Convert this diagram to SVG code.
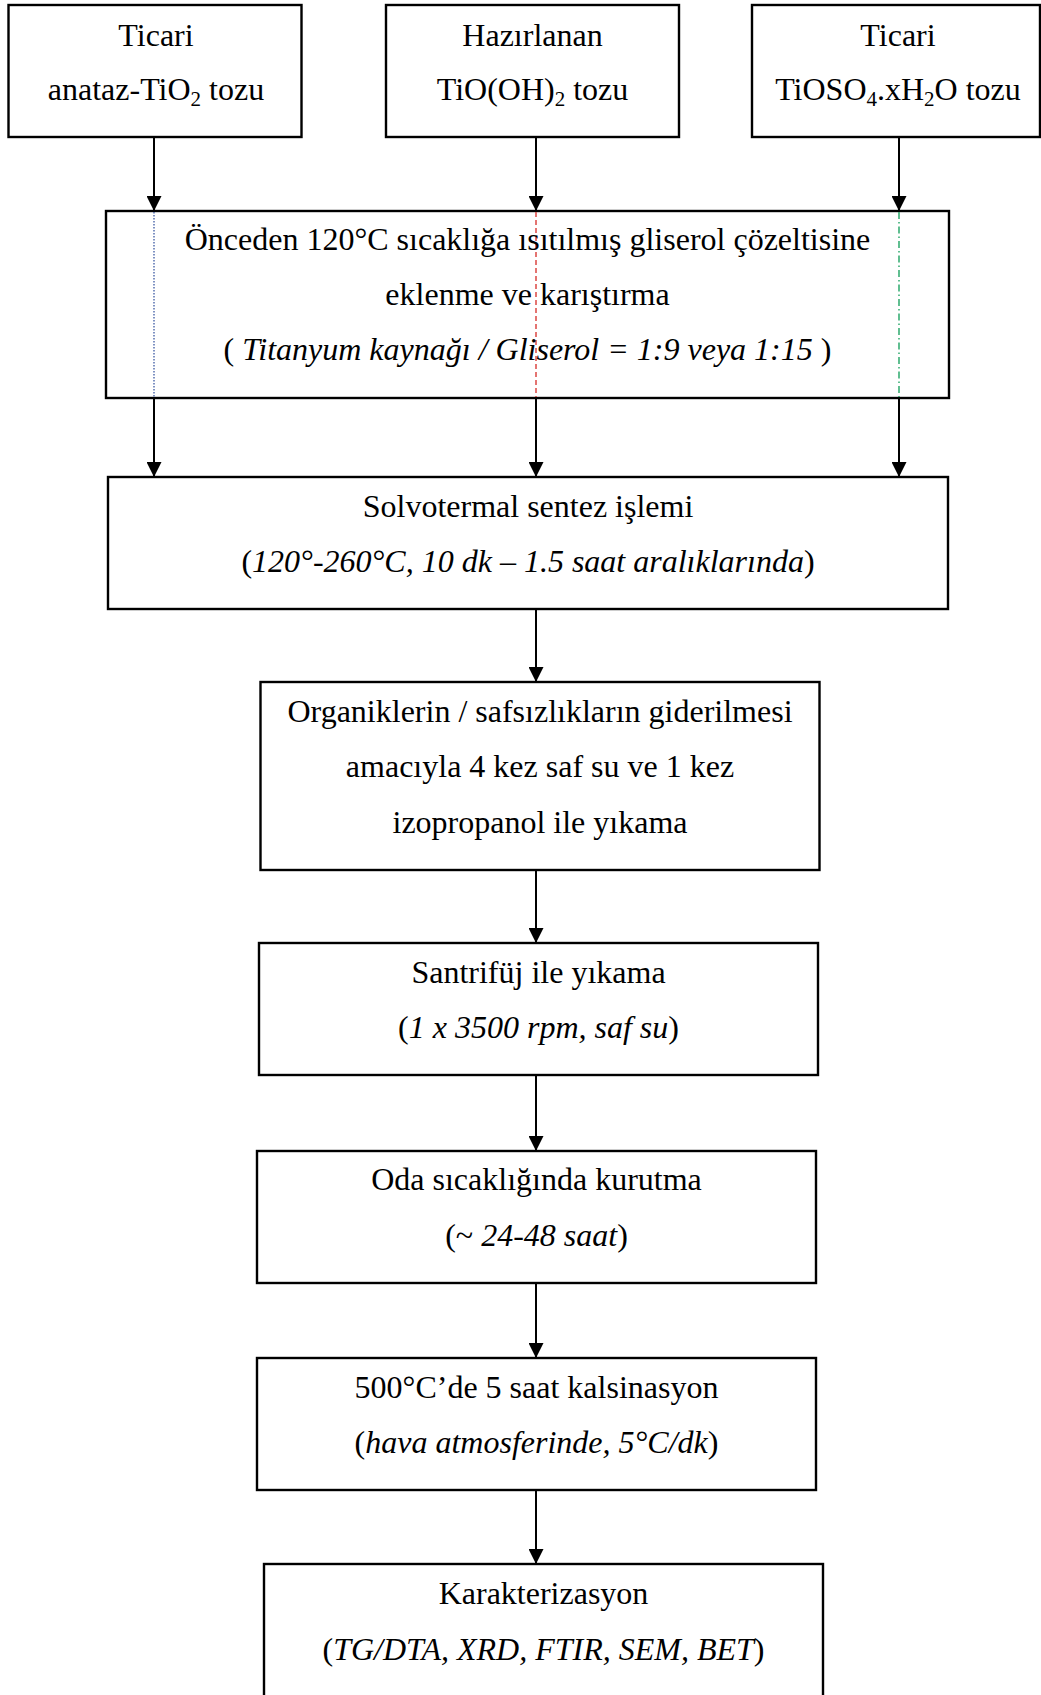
<svg xmlns="http://www.w3.org/2000/svg" width="1041" height="1695" viewBox="0 0 1041 1695">
<style>
  .box { fill: #fff; stroke: #000; stroke-width: 2.4; }
  .t { font-family: "Liberation Serif", "Times New Roman", serif; font-size: 32px; fill: #000; text-anchor: middle; }
  .i { font-style: italic; }
  .sub { font-size: 21px; }
  .conn { stroke: #000; stroke-width: 2; fill: none; }
</style>
<defs>
  <marker id="arr" markerUnits="userSpaceOnUse" markerWidth="15" markerHeight="15" viewBox="0 0 15 15" refX="15" refY="7.5" orient="auto">
    <path d="M0,0 L15,7.5 L0,15 z" fill="#000"/>
  </marker>
</defs>
<rect width="1041" height="1695" fill="#fff"/>

<g id="connectors">
  <line class="conn" x1="154" y1="137" x2="154" y2="211" marker-end="url(#arr)"/>
  <line class="conn" x1="536" y1="137" x2="536" y2="211" marker-end="url(#arr)"/>
  <line class="conn" x1="899" y1="137" x2="899" y2="211" marker-end="url(#arr)"/>
  <line class="conn" x1="154" y1="398" x2="154" y2="477" marker-end="url(#arr)"/>
  <line class="conn" x1="536" y1="398" x2="536" y2="477" marker-end="url(#arr)"/>
  <line class="conn" x1="899" y1="398" x2="899" y2="477" marker-end="url(#arr)"/>
  <line class="conn" x1="536" y1="609" x2="536" y2="682" marker-end="url(#arr)"/>
  <line class="conn" x1="536" y1="870" x2="536" y2="943" marker-end="url(#arr)"/>
  <line class="conn" x1="536" y1="1075" x2="536" y2="1151" marker-end="url(#arr)"/>
  <line class="conn" x1="536" y1="1283" x2="536" y2="1358" marker-end="url(#arr)"/>
  <line class="conn" x1="536" y1="1490" x2="536" y2="1564" marker-end="url(#arr)"/>
</g>

<g id="n1">
  <rect class="box" x="8.5" y="5" width="293" height="132"/>
  <text class="t" x="156" y="46">Ticari</text>
  <text class="t" x="156" y="100">anataz-TiO<tspan class="sub" dy="6">2</tspan><tspan dy="-6"> tozu</tspan></text>
</g>
<g id="n2">
  <rect class="box" x="386" y="5" width="293" height="132"/>
  <text class="t" x="532.5" y="46">Hazırlanan</text>
  <text class="t" x="532.5" y="100">TiO(OH)<tspan class="sub" dy="6">2</tspan><tspan dy="-6"> tozu</tspan></text>
</g>
<g id="n3">
  <rect class="box" x="752" y="5" width="288" height="132"/>
  <text class="t" x="898" y="46">Ticari</text>
  <text class="t" x="898" y="100">TiOSO<tspan class="sub" dy="6">4</tspan><tspan dy="-6">.xH</tspan><tspan class="sub" dy="6">2</tspan><tspan dy="-6">O tozu</tspan></text>
</g>
<g id="n4">
  <rect class="box" x="106" y="211" width="843" height="187"/>
  <line x1="154" y1="212" x2="154" y2="397" stroke="#2a4a9a" stroke-width="1.2" stroke-dasharray="1.5,1.5"/>
  <line x1="536" y1="212" x2="536" y2="397" stroke="#d93a36" stroke-width="1.4" stroke-dasharray="5,3"/>
  <line x1="899" y1="212" x2="899" y2="397" stroke="#1fa463" stroke-width="1.4" stroke-dasharray="7,3,1.5,3"/>
  <text class="t" x="527.5" y="250">Önceden 120°C sıcaklığa ısıtılmış gliserol çözeltisine</text>
  <text class="t" x="527.5" y="305">eklenme ve karıştırma</text>
  <text class="t" x="527.5" y="360">( <tspan class="i">Titanyum kaynağı / Gliserol = 1:9 veya 1:15</tspan> )</text>
</g>
<g id="n5">
  <rect class="box" x="108" y="477" width="840" height="132"/>
  <text class="t" x="528" y="517">Solvotermal sentez işlemi</text>
  <text class="t" x="528" y="572">(<tspan class="i">120°-260°C, 10 dk – 1.5 saat aralıklarında</tspan>)</text>
</g>
<g id="n6">
  <rect class="box" x="260.5" y="682" width="559" height="188"/>
  <text class="t" x="540" y="722">Organiklerin / safsızlıkların giderilmesi</text>
  <text class="t" x="540" y="777">amacıyla 4 kez saf su ve 1 kez</text>
  <text class="t" x="540" y="833">izopropanol ile yıkama</text>
</g>
<g id="n7">
  <rect class="box" x="259" y="943" width="559" height="132"/>
  <text class="t" x="538.5" y="983">Santrifüj ile yıkama</text>
  <text class="t" x="538.5" y="1038">(<tspan class="i">1 x 3500 rpm, saf su</tspan>)</text>
</g>
<g id="n8">
  <rect class="box" x="257" y="1151" width="559" height="132"/>
  <text class="t" x="536.5" y="1190">Oda sıcaklığında kurutma</text>
  <text class="t" x="536.5" y="1246">(~ <tspan class="i">24-48 saat</tspan>)</text>
</g>
<g id="n9">
  <rect class="box" x="257" y="1358" width="559" height="132"/>
  <text class="t" x="536.5" y="1398">500°C’de 5 saat kalsinasyon</text>
  <text class="t" x="536.5" y="1453">(<tspan class="i">hava atmosferinde, 5°C/dk</tspan>)</text>
</g>
<g id="n10">
  <rect class="box" x="264" y="1564" width="559" height="200"/>
  <text class="t" x="543.5" y="1604">Karakterizasyon</text>
  <text class="t" x="543.5" y="1660">(<tspan class="i">TG/DTA, XRD, FTIR, SEM, BET</tspan>)</text>
</g>
</svg>
